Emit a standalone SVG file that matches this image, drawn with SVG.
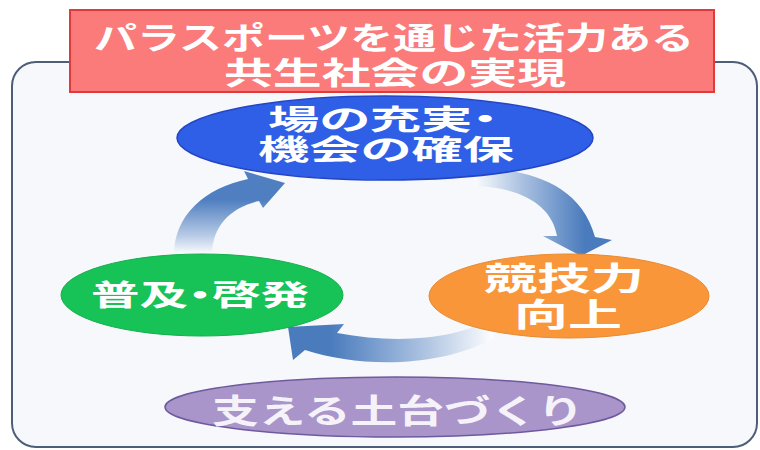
<svg xmlns="http://www.w3.org/2000/svg" width="760" height="450" viewBox="0 0 760 450">
<style>
.t{font-family:"Noto Sans CJK JP","Noto Sans",sans-serif;font-weight:bold;fill:#ffffff;}
.p{font-feature-settings:"palt";}
</style>
<defs>
<linearGradient id="g1" gradientUnits="userSpaceOnUse" x1="0" y1="255" x2="0" y2="200">
<stop offset="0" stop-color="#ffffff"/><stop offset="0.35" stop-color="#b8cbe6"/><stop offset="1" stop-color="#4f7fc0"/>
</linearGradient>
<linearGradient id="g2" gradientUnits="userSpaceOnUse" x1="472" y1="0" x2="585" y2="0">
<stop offset="0" stop-color="#ffffff"/><stop offset="0.45" stop-color="#a9c0e0"/><stop offset="1" stop-color="#4a7bbd"/>
</linearGradient>
<linearGradient id="g3" gradientUnits="userSpaceOnUse" x1="495" y1="0" x2="330" y2="0">
<stop offset="0" stop-color="#ffffff"/><stop offset="0.45" stop-color="#a9c0e0"/><stop offset="1" stop-color="#4a7bbd"/>
</linearGradient>
</defs>
<rect x="12" y="62" width="745" height="385" rx="24" ry="24" fill="#f6f8fb" stroke="#4e5d78" stroke-width="2"/>
<g id="connectors">
<path d="M174,255 C174,215 205,188 248,179 L244,171 L285,183 L263,208 L259,201 C232,207 212,225 212,255 Z" fill="url(#g1)"/>
<path d="M474,168 C520,168 580,180 595,237 L612,240 L581,256 L543,236 L557,236 C552,205 520,187 474,186 Z" fill="url(#g2)"/>
<path d="M492,318 C460,338 400,345 337,333 L344,324 L288,327 L293,360 L305,350 C360,368 440,368 494,338 Z" fill="url(#g3)"/>
</g>
<g id="node-ba">
<ellipse cx="385" cy="138" rx="208" ry="42" fill="#2f5fe6" stroke="#2445c4" stroke-width="1.5"/>
<text class="t p" x="268" y="130" font-size="28" textLength="230" lengthAdjust="spacingAndGlyphs">場の充実・</text>
<text class="t" x="258" y="160" font-size="28" textLength="256" lengthAdjust="spacingAndGlyphs">機会の確保</text>
</g>
<g id="node-kyogi">
<ellipse cx="569" cy="296" rx="140" ry="42" fill="#f9963a" stroke="#e88a30" stroke-width="1"/>
<text class="t" x="484" y="290" font-size="32" textLength="160" lengthAdjust="spacingAndGlyphs">競技力</text>
<text class="t" x="514" y="326" font-size="32" textLength="108" lengthAdjust="spacingAndGlyphs">向上</text>
</g>
<g id="node-fukyu">
<ellipse cx="202" cy="295" rx="141" ry="41" fill="#17c257" stroke="#12b04c" stroke-width="1"/>
<text class="t p" x="91" y="306" font-size="29" textLength="218" lengthAdjust="spacingAndGlyphs">普及・啓発</text>
</g>
<g id="node-dodai">
<ellipse cx="395" cy="407" rx="230" ry="30" fill="#a995c9" stroke="#6e5a9e" stroke-width="1.5"/>
<text class="t" x="212" y="423" font-size="33" textLength="372" lengthAdjust="spacingAndGlyphs" style="fill:#f6f2fa">支える土台づくり</text>
</g>
<g id="title">
<rect x="70" y="10" width="644" height="82" fill="#fb7a7a" stroke="#e23a3a" stroke-width="2"/>
<text class="t" x="94" y="49" font-size="31" textLength="600" lengthAdjust="spacingAndGlyphs">パラスポーツを通じた活力ある</text>
<text class="t" x="224" y="84" font-size="31" textLength="342" lengthAdjust="spacingAndGlyphs">共生社会の実現</text>
</g>
</svg>
